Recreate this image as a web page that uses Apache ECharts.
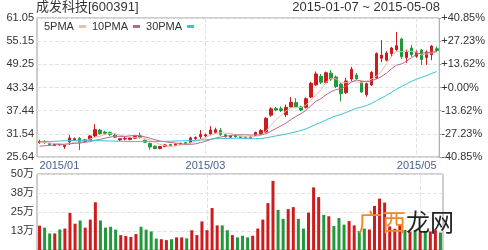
<!DOCTYPE html>
<html>
<head>
<meta charset="utf-8">
<script src="https://cdn.jsdelivr.net/npm/echarts@6/dist/echarts.min.js"></script>
<style>
html, body { margin: 0; padding: 0; background: #fff; }
#chart { width: 488px; height: 250px; }
</style>
</head>
<body>
<div id="chart"></div>
<script>
// trading days 2015-01-07 ~ 2015-05-08
const dates = [
  '2015-01-07','2015-01-08','2015-01-09','2015-01-12','2015-01-13','2015-01-14','2015-01-15','2015-01-16','2015-01-19','2015-01-20',
  '2015-01-21','2015-01-22','2015-01-23','2015-01-26','2015-01-27','2015-01-28','2015-01-29','2015-01-30','2015-02-02','2015-02-03',
  '2015-02-04','2015-02-05','2015-02-06','2015-02-09','2015-02-10','2015-02-11','2015-02-12','2015-02-13','2015-02-16','2015-02-17',
  '2015-02-25','2015-02-26','2015-02-27','2015-03-02','2015-03-03','2015-03-04','2015-03-05','2015-03-06','2015-03-09','2015-03-10',
  '2015-03-11','2015-03-12','2015-03-13','2015-03-16','2015-03-17','2015-03-18','2015-03-19','2015-03-20','2015-03-23','2015-03-24',
  '2015-03-25','2015-03-26','2015-03-27','2015-03-30','2015-03-31','2015-04-01','2015-04-02','2015-04-07','2015-04-08','2015-04-09',
  '2015-04-10','2015-04-13','2015-04-14','2015-04-15','2015-04-16','2015-04-17','2015-04-20','2015-04-21','2015-04-22','2015-04-23',
  '2015-04-24','2015-04-27','2015-04-28','2015-04-29','2015-04-30','2015-05-04','2015-05-05','2015-05-06','2015-05-07','2015-05-08'
]
const labelDates = ['2015-01-07', '2015-03-02', '2015-05-04']

const openPrices = [
  29.3,29.6,29.1,28.6,28.9,28.3,29.5,30.0,30.4,29.6,
  30.0,31.0,32.5,32.0,31.9,31.2,30.0,30.2,30.1,30.4,
  31.0,29.9,29.1,28.4,27.8,28.3,28.8,28.6,28.9,29.3,
  29.3,30.3,30.8,31.0,31.5,31.9,32.4,31.3,30.7,31.1,
  30.9,30.7,30.4,31.2,31.5,32.0,36.3,38.0,37.9,36.4,
  38.4,39.5,38.4,38.3,40.9,44.0,46.2,44.6,47.0,46.0,
  44.2,42.0,45.5,46.5,44.8,41.5,44.0,45.8,50.8,50.3,
  52.0,53.0,55.7,51.0,53.4,51.3,52.9,51.0,51.7,53.2
]
const closePrices = [
  29.6,29.3,28.8,28.8,28.7,28.6,30.5,30.3,29.3,30.0,
  31.0,32.6,31.6,31.7,31.4,30.7,30.3,30.4,30.5,30.9,
  30.6,29.4,28.2,27.8,28.3,28.7,28.6,28.9,29.1,29.1,
  30.5,30.6,31.4,31.3,32.5,32.6,31.4,30.8,30.9,30.8,
  30.6,30.5,30.7,31.9,32.4,35.5,37.9,37.6,37.5,38.3,
  39.6,38.4,37.6,40.5,44.4,46.8,44.7,47.1,45.5,43.6,
  41.8,45.0,48.0,45.6,42.2,44.3,47.2,52.0,51.6,52.1,
  53.4,54.0,51.2,52.4,51.7,52.4,50.5,52.4,53.9,52.8
]
const lowPrices = [
  29.0,29.0,28.6,28.4,28.5,27.7,28.7,29.8,27.4,29.4,
  29.8,30.7,31.3,31.3,31.0,30.5,29.7,29.9,29.9,30.2,
  30.3,29.2,27.5,27.6,27.6,28.1,28.4,28.5,28.7,28.9,
  29.1,30.0,30.2,30.7,31.2,31.6,31.0,30.6,30.5,30.6,
  30.4,30.3,30.2,31.0,31.3,31.8,35.9,37.3,37.1,35.8,
  38.2,38.1,37.3,38.0,40.6,43.8,44.2,44.3,45.0,43.2,
  39.8,41.7,45.0,45.3,42.0,41.0,43.8,45.5,49.8,50.0,
  51.2,52.6,50.6,49.6,51.2,50.9,49.1,49.1,50.3,52.4
]
const highPrices = [
  30.0,29.9,29.3,29.1,29.1,28.9,31.2,30.6,30.7,30.2,
  31.3,34.0,32.8,32.3,32.1,31.5,30.5,30.7,30.7,31.1,
  31.9,30.1,29.3,28.6,28.5,29.0,29.0,29.1,29.3,29.5,
  30.8,30.9,32.5,31.6,33.5,33.1,33.0,31.5,31.2,31.4,
  31.0,30.9,30.9,32.1,32.7,35.8,38.3,38.4,38.5,39.0,
  40.9,40.6,38.7,40.8,44.8,47.4,46.8,47.4,47.8,46.4,
  44.6,45.8,48.6,47.0,45.0,44.6,47.5,52.3,55.4,52.6,
  53.7,57.5,56.0,53.0,54.2,52.8,53.2,52.8,54.2,53.8
]
// 成交量（万）
const volumes = [
  16.0,14.7,10.9,10.9,13.5,14.1,24.4,17.3,19.4,14.7,
  20.0,31.4,19.4,14.7,15.3,13.4,9.8,9.2,8.6,10.5,
  15.3,13.4,12.2,7.5,7.1,6.5,7.1,8.3,8.3,7.7,
  13.0,9.8,18.8,13.0,27.6,16.2,16.2,13.0,9.8,8.3,
  9.4,8.3,9.4,14.1,20.0,30.8,45.5,26.4,20.5,26.9,
  28.2,20.5,14.1,24.6,41.2,34.8,23.1,22.2,15.8,21.0,
  16.7,19.0,16.2,12.4,14.1,13.5,29.0,33.8,31.2,15.5,
  14.0,16.5,13.2,12.0,12.4,11.8,12.6,12.2,13.0,11.5
]
const ma5 = [
  29.3,29.3,29.2,29.1,29.04,28.84,29.08,29.38,29.48,29.74,
  30.22,30.64,30.9,31.38,31.66,31.6,31.14,30.9,30.66,30.56,
  30.54,30.36,29.92,29.38,28.86,28.48,28.32,28.46,28.72,28.88,
  29.24,29.64,30.14,30.58,31.26,31.68,31.84,31.72,31.64,31.3,
  30.9,30.72,30.7,30.9,31.22,32.2,33.68,35.06,36.18,37.36,
  38.18,38.28,38.28,38.88,40.1,41.54,42.8,44.7,45.7,45.54,
  44.54,44.6,44.78,44.8,44.52,45.02,45.46,46.26,47.46,49.44,
  51.26,52.62,52.46,52.62,52.54,52.34,51.64,51.88,52.18,52.4
]
const ma10 = [
  28.4,28.5,28.6,28.7,28.8,28.9,29.0,29.1,29.2,29.39,
  29.53,29.86,30.14,30.43,30.7,30.91,30.89,30.9,31.02,31.11,
  31.07,30.75,30.41,30.02,29.71,29.51,29.34,29.19,29.05,28.87,
  28.86,28.98,29.3,29.65,30.07,30.46,30.74,30.93,31.11,31.28,
  31.29,31.28,31.21,31.27,31.26,31.55,32.2,32.88,33.54,34.29,
  35.19,35.98,36.67,37.53,38.73,39.86,40.54,41.49,42.29,42.82,
  43.04,43.7,44.74,45.25,45.03,44.78,45.03,45.52,46.13,46.98,
  48.14,49.04,49.36,50.04,50.99,51.8,52.13,52.17,52.4,52.47
]
const ma30 = [
  29.6,29.6,29.6,29.65,29.7,29.75,29.8,29.85,29.9,29.9,
  29.9,29.85,29.8,29.75,29.7,29.7,29.65,29.6,29.6,29.6,
  29.6,29.6,29.6,29.6,29.6,29.62,29.65,29.7,29.75,29.79,
  29.82,29.86,29.95,30.03,30.16,30.29,30.32,30.34,30.39,30.42,
  30.41,30.34,30.31,30.31,30.35,30.51,30.76,31.0,31.23,31.48,
  31.78,32.08,32.39,32.82,33.35,33.96,34.49,35.1,35.65,36.13,
  36.51,36.99,37.54,38.02,38.34,38.73,39.26,39.96,40.65,41.36,
  42.12,42.91,43.59,44.27,44.92,45.48,45.9,46.39,46.94,47.42
]
// 涨跌幅刻度以此价格为 0%
const basePrice = 43.344
const pctRange = 40.85

const UP = '#cf1a1e'
const DOWN = '#21983a'
const FONT = 'Liberation Sans, Arial, Noto Sans CJK SC, sans-serif'

const candles = dates.map((d, i) => [openPrices[i], closePrices[i], lowPrices[i], highPrices[i]])
const volData = volumes.map((v, i) => ({
  value: v,
  itemStyle: { color: closePrices[i] >= openPrices[i] ? UP : DOWN }
}))
const labelIdx = labelDates.map(d => dates.indexOf(d))
const dashed = { color: '#e2e2e2', type: 'dashed', width: 1 }

const chart = echarts.init(document.getElementById('chart'))
chart.setOption({
  animation: false,
  textStyle: { fontFamily: FONT },
  title: [
    {
      text: '成发科技[600391]', left: 36, top: 1, padding: 0,
      textStyle: { fontSize: 13, fontWeight: 'normal', color: '#333', fontFamily: FONT }
    },
    {
      text: '2015-01-07 ~ 2015-05-08', right: 48, top: 1, padding: 0,
      textStyle: { fontSize: 13, fontWeight: 'normal', color: '#333', fontFamily: FONT }
    }
  ],
  legend: {
    left: 44, top: 21, padding: 0,
    itemWidth: 7, itemHeight: 3, itemGap: 6, align: 'right',
    textStyle: { fontSize: 11, color: '#333', fontFamily: FONT },
    data: [
      { name: '5PMA', icon: 'rect' },
      { name: '10PMA', icon: 'rect' },
      { name: '30PMA', icon: 'rect' }
    ]
  },
  grid: [
    { left: 37, right: 45, top: 18, height: 139, show: true, borderColor: '#9c9c9c', borderWidth: 1 },
    { left: 37, right: 45, top: 174, height: 78, show: true, borderColor: '#9c9c9c', borderWidth: 1 }
  ],
  xAxis: [
    {
      type: 'category', gridIndex: 0, data: dates, boundaryGap: true,
      axisLine: { show: false },
      axisTick: { show: false, alignWithLabel: true },
      axisLabel: {
        interval: (i) => labelIdx.includes(i),
        formatter: v => v.slice(0, 7).replace('-', '/'),
        color: '#4a6190', fontSize: 11, margin: 3, alignMinLabel: 'left'
      },
      splitLine: { show: true, alignWithLabel: true, interval: (i) => i > 0 && labelIdx.includes(i), lineStyle: dashed }
    },
    {
      type: 'category', gridIndex: 1, data: dates, boundaryGap: true,
      axisLine: { show: false },
      axisTick: { show: false, alignWithLabel: true },
      axisLabel: { show: false },
      splitLine: { show: true, alignWithLabel: true, interval: (i) => i > 0 && labelIdx.includes(i), lineStyle: dashed }
    }
  ],
  yAxis: [
    {
      // price scale for the marks
      type: 'value', gridIndex: 0, show: false,
      min: basePrice * (1 - pctRange / 100), max: basePrice * (1 + pctRange / 100)
    },
    {
      type: 'value', gridIndex: 0, position: 'left',
      min: -pctRange, max: pctRange, interval: pctRange / 3,
      axisLine: { show: false }, axisTick: { show: false },
      axisLabel: {
        fontSize: 11, color: '#333', margin: 3,
        formatter: v => (basePrice * (1 + v / 100)).toFixed(2)
      },
      splitLine: { show: true, lineStyle: dashed }
    },
    {
      type: 'value', gridIndex: 0, position: 'right',
      min: -pctRange, max: pctRange, interval: pctRange / 3,
      axisLine: { show: false },
      axisTick: { show: true, length: 2, inside: false, lineStyle: { color: '#9c9c9c' } },
      axisLabel: {
        fontSize: 11, color: '#333', margin: 2,
        formatter: v => Math.abs(v) < 1e-6 ? '+0.00%' : (v > 0 ? '+' : '') + v.toFixed(2) + '%'
      },
      splitLine: { show: false }
    },
    {
      type: 'value', gridIndex: 1, position: 'left',
      min: 0, max: 50, interval: 12.5,
      axisLine: { show: false }, axisTick: { show: false },
      axisLabel: {
        fontSize: 11, color: '#333', margin: 3,
        formatter: v => v === 0 ? '' : Math.round(v) + '万'
      },
      splitLine: { show: true, lineStyle: dashed }
    }
  ],
  graphic: [
    {
      type: 'text', left: 358, top: 210, z: 100,
      style: { text: '广西', fill: '#f08a22', font: '24px "Noto Sans CJK SC"' }
    },
    {
      type: 'text', left: 406, top: 210, z: 100,
      style: { text: '龙网', fill: '#222', font: '24px "Noto Sans CJK SC"' }
    }
  ],
  series: [
    {
      name: 'K', type: 'candlestick', xAxisIndex: 0, yAxisIndex: 0,
      data: candles, barWidth: 3,
      itemStyle: { color: UP, color0: DOWN, borderColor: UP, borderColor0: DOWN, borderWidth: 1 }
    },
    {
      name: '5PMA', type: 'line', xAxisIndex: 0, yAxisIndex: 0, data: ma5,
      showSymbol: false, color: '#e4c3ac', lineStyle: { width: 1, color: '#eab8a8' }
    },
    {
      name: '10PMA', type: 'line', xAxisIndex: 0, yAxisIndex: 0, data: ma10,
      showSymbol: false, color: '#b8688a', lineStyle: { width: 1, color: '#b8688a' }
    },
    {
      name: '30PMA', type: 'line', xAxisIndex: 0, yAxisIndex: 0, data: ma30,
      showSymbol: false, color: '#36c4d6', lineStyle: { width: 1, color: '#36c4d6' }
    },
    {
      name: 'VOL', type: 'bar', xAxisIndex: 1, yAxisIndex: 3,
      data: volData, barWidth: 3
    }
  ]
})
</script>
</body>
</html>
